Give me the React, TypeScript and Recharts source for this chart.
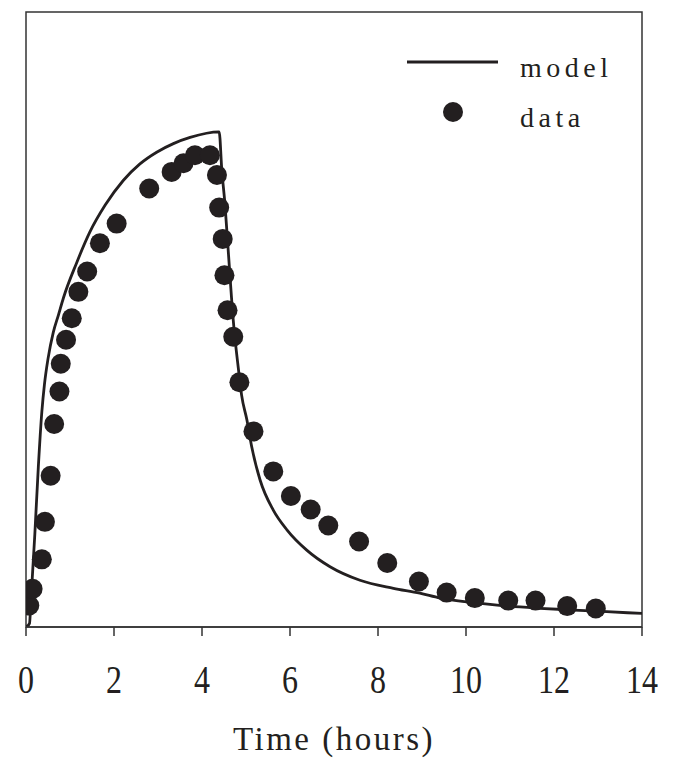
import {
  ComposedChart,
  Legend,
  Line,
  ReferenceArea,
  Scatter,
  XAxis,
  YAxis,
} from "recharts"

// time (hours) / value pairs (arbitrary y units 0-100)
const DATA_T = [
  0.075, 0.15, 0.36, 0.43, 0.56, 0.64, 0.76, 0.79, 0.91, 1.04, 1.19, 1.39, 1.68, 2.06, 2.8, 3.31, 3.58, 3.84,
  4.18, 4.34, 4.39, 4.47, 4.51, 4.58, 4.71, 4.85, 5.17, 5.62, 6.02, 6.47, 6.87, 7.57, 8.21, 8.93, 9.56, 10.2,
  10.96, 11.58, 12.3, 12.95,
]
const DATA_Y = [
  3.5, 6.2, 11.0, 17.1, 24.6, 33.0, 38.3, 42.8, 46.7, 50.2, 54.5, 57.8, 62.4, 65.6, 71.3, 74.0, 75.4, 76.7,
  76.7, 73.5, 68.2, 63.1, 57.2, 51.5, 47.2, 39.8, 31.8, 25.3, 21.3, 19.1, 16.5, 13.9, 10.4, 7.4, 5.6, 4.7,
  4.3, 4.3, 3.4, 3.0,
]

const MODEL_T = [
  0, 0.08, 0.11, 0.2, 0.28, 0.36, 0.42, 0.5, 0.62, 0.74, 0.85, 1.15, 1.45, 1.8, 2.21, 2.59, 2.97, 3.35, 3.73,
  4.39, 4.45, 4.52, 4.6, 4.71, 4.83, 4.9, 5.02, 5.13, 5.32, 5.62, 5.93, 6.38, 6.91, 7.59, 8.35, 8.95, 9.41,
  10.17, 10.92, 11.68, 12.44, 13.2, 14,
]
const MODEL_Y = [
  0, 0.6, 4, 15, 26, 35, 39.5, 43.6, 47.9, 50.8, 53.5, 59.2, 64.2, 68.6, 72.6, 75.3, 77.2, 78.6, 79.6,
  80.5, 74.3, 68.9, 60.8, 49.9, 41.8, 37.7, 33.7, 29.3, 23.9, 19, 15.8, 12.5, 9.8, 7.6, 6.3, 5.5, 4.7,
  3.95, 3.4, 3.04, 2.76, 2.49, 2.2,
]

const X_TICKS = [0, 2, 4, 6, 8, 10, 12, 14]

const dataPoints = DATA_T.map((t, i) => ({ t, y: DATA_Y[i] }))
const modelPoints = MODEL_T.map((t, i) => ({ t, y: MODEL_Y[i] }))

const INK = "#231f20"
const FRAME = "#333333"
const FONT = "'Liberation Serif', 'Times New Roman', serif"

const TimeTick = (props: any) => {
  const { x, y, payload } = props
  return (
    <g transform={`translate(${x},${y})`}>
      <text x={0} y={0} dy={54.7} textAnchor="middle" transform="scale(0.8,1)" fontSize={40} fill={INK} fontFamily={FONT}>
        {payload.value}
      </text>
    </g>
  )
}

const DataDot = (props: any) => {
  const { cx, cy } = props
  if (cx == null || cy == null) return null
  return <circle cx={cx} cy={cy} r={10} fill={INK} />
}

const renderLegend = () => (
  <svg width={240} height={100} style={{ display: "block" }}>
    <line x1={7} x2={98} y1={22} y2={22} stroke={INK} strokeWidth={2.8} />
    <text x={120} y={36.7} fontSize={28} letterSpacing={4.5} fill={INK} fontFamily={FONT}>
      model
    </text>
    <circle cx={53} cy={72} r={10} fill={INK} />
    <text x={120} y={87} fontSize={28} letterSpacing={4.5} fill={INK} fontFamily={FONT}>
      data
    </text>
  </svg>
)

export default function App() {
  return (
    <div style={{ position: "absolute", left: 0, top: 0, background: "#fff", fontFamily: FONT }}>
      <ComposedChart width={679} height={762} margin={{ top: 12, right: 37, left: 26, bottom: 0 }}>
        <XAxis
          type="number"
          dataKey="t"
          domain={[0, 14]}
          ticks={X_TICKS}
          allowDataOverflow
          height={135}
          tickSize={9}
          tickMargin={2}
          tick={<TimeTick />}
          axisLine={{ stroke: FRAME, strokeWidth: 1.5 }}
          tickLine={{ stroke: FRAME, strokeWidth: 1.5 }}
          label={{
            value: "Time (hours)",
            position: "insideBottom",
            offset: 12,
            fontSize: 33,
            letterSpacing: 2.5,
            fill: INK,
            fontFamily: FONT,
          }}
        />
        <YAxis type="number" dataKey="y" domain={[0, 100]} allowDataOverflow hide />
        <ReferenceArea x1={0} x2={14} y1={0} y2={100} fill="none" stroke={FRAME} strokeWidth={1.5} ifOverflow="visible" />
        <Line
          data={modelPoints}
          dataKey="y"
          type="monotone"
          stroke={INK}
          strokeWidth={2.8}
          dot={false}
          activeDot={false}
          isAnimationActive={false}
        />
        <Scatter data={dataPoints} dataKey="y" shape={<DataDot />} isAnimationActive={false} />
        <Legend
          layout="vertical"
          align="center"
          verticalAlign="middle"
          wrapperStyle={{ top: 40, left: 400, width: 240, height: 100 }}
          content={renderLegend}
        />
      </ComposedChart>
    </div>
  )
}
